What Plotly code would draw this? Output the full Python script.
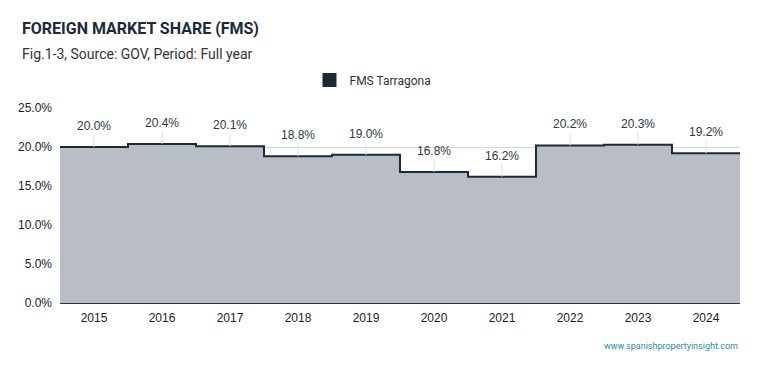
import plotly.graph_objects as go

years = ["2015", "2016", "2017", "2018", "2019", "2020", "2021", "2022", "2023", "2024"]
fms = [20.0, 20.4, 20.1, 18.8, 19.0, 16.8, 16.2, 20.2, 20.3, 19.2]
series_name = "FMS Tarragona"
y_ticks = [0, 5, 10, 15, 20, 25]

# page body has an 8px margin; compensate so the picture lands at 759x371 coords
OFF = 8
W, H = 759 - OFF, 371 - OFF
L, R, T, B = 60 - OFF, 19, 108 - OFF, 68
PW, PH = W - L - R, H - T - B

TICK_FONT = "Liberation Sans"

n = len(years)
xs = [i - 0.5 for i in range(n)] + [n - 0.5]
ys = fms + [fms[-1]]

fig = go.Figure()
fig.add_trace(go.Scatter(
    x=xs, y=ys, mode="lines", line=dict(shape="hv", color="#1b2a3a", width=2),
    fill="tozeroy", fillcolor="#b9bdc5", showlegend=False, hoverinfo="skip",
))
fig.add_trace(go.Scatter(
    x=[None], y=[None], mode="markers", name=series_name,
    marker=dict(symbol="square", size=14, color="#1b2a3a"),
))

annotations = []
for i, v in enumerate(fms):
    annotations.append(dict(
        x=i, y=v, text=f"{v:.1f}%", showarrow=True, arrowhead=0, arrowwidth=1,
        arrowcolor="#dcdcdc", ax=0, ay=-12, standoff=0,
        font=dict(family=TICK_FONT, size=12, color="#2b3846"), yanchor="bottom",
    ))

annotations += [
    dict(text="<b>FOREIGN MARKET SHARE (FMS)</b>", xref="paper", yref="paper",
         x=(20 - OFF - L) / PW, y=1 + (T - (28 - OFF)) / PH, xanchor="left", yanchor="middle",
         showarrow=False, font=dict(family="Roboto", size=16, color="#1b2a3a")),
    dict(text="Fig.1-3, Source: GOV, Period: Full year", xref="paper", yref="paper",
         x=(20 - OFF - L) / PW, y=1 + (T - (54 - OFF)) / PH, xanchor="left", yanchor="middle",
         showarrow=False, font=dict(family="Roboto", size=14, color="#333333")),
    dict(text="www.spanishpropertyinsight.com", xref="paper", yref="paper",
         x=1, y=-((346 - OFF) - (H - B)) / PH, xanchor="right", yanchor="middle",
         showarrow=False, font=dict(family="Roboto", size=9, color="#2a8c9c")),
]

fig.update_layout(
    width=W, height=H,
    margin=dict(l=L, r=R, t=T, b=B, autoexpand=False),
    paper_bgcolor="white", plot_bgcolor="white",
    font=dict(family="Roboto", color="#333333"),
    showlegend=True,
    legend=dict(orientation="h", x=(373 - OFF) / W, xanchor="center", xref="container",
                y=1 - (80 - OFF) / H, yref="container", yanchor="middle",
                font=dict(family="Roboto", size=12, color="#333333")),
    xaxis=dict(
        range=[-0.5, n - 0.5], tickmode="array", tickvals=list(range(n)), ticktext=years,
        showgrid=False, zeroline=False, showline=False, ticks="",
        ticklabelstandoff=6,
        tickfont=dict(family=TICK_FONT, size=12, color="#222222"),
    ),
    yaxis=dict(
        range=[0, 25], tickmode="array", tickvals=y_ticks,
        ticktext=[f"{t:.1f}%" for t in y_ticks],
        showgrid=True, gridcolor="#d6d6d6", gridwidth=1, zeroline=True,
        zerolinecolor="#333333", zerolinewidth=1.5,
        ticklabelstandoff=7,
        tickfont=dict(family=TICK_FONT, size=12, color="#222222"), ticks="",
    ),
    annotations=annotations,
)

fig.write_html("out.html")
